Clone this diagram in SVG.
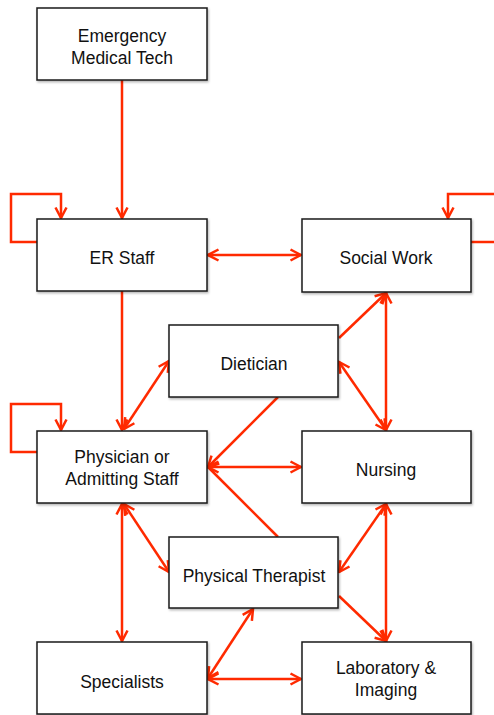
<svg xmlns="http://www.w3.org/2000/svg" width="494" height="715" viewBox="0 0 494 715">
<defs>
<style>
.box{fill:#fff;stroke:#1a1a1a;stroke-width:1.5;filter:url(#sh)}
.lbl{font-family:"Liberation Sans",Arial,sans-serif;font-size:17.5px;fill:#111;text-anchor:middle}
.c{fill:none;stroke:#ff2a00;stroke-width:2.5;stroke-linejoin:miter}
.a{marker-end:url(#ah)}
.b{marker-start:url(#ah);marker-end:url(#ah)}
</style>
<filter id="sh" x="-10%" y="-10%" width="120%" height="130%">
<feDropShadow dx="1" dy="1.5" stdDeviation="1.2" flood-color="#000" flood-opacity="0.3"/>
</filter>
<marker id="ah" viewBox="0 0 14 14" refX="12.5" refY="7" markerWidth="14" markerHeight="14" markerUnits="userSpaceOnUse" orient="auto-start-reverse">
<path d="M2,1.5 L12.5,7 L2,12.5" fill="none" stroke="#ff2a00" stroke-width="2.5"/>
</marker>
</defs>
<g id="connectors">
<path class="c a" d="M122,80 L122,218"/>
<path class="c a" d="M37,242 L11,242 L11,194 L61,194 L61,218"/>
<path class="c" d="M471,242 L500,242"/>
<path class="c a" d="M500,194 L448,194 L448,218"/>
<path class="c b" d="M208,255 L301,255"/>
<path class="c a" d="M122,291 L122,430"/>
<path class="c a" d="M37,452 L11,452 L11,404 L61,404 L61,430"/>
<path class="c b" d="M124,429 L169,361"/>
<path class="c a" d="M278,397 L208,467"/>
<path class="c" d="M278,537 L208,467"/>
<path class="c b" d="M208,467 L301,467"/>
<path class="c b" d="M124,504 L169,572"/>
<path class="c b" d="M122,504 L122,641"/>
<path class="c b" d="M253,609 L208,678"/>
<path class="c b" d="M208,679 L301,679"/>
<path class="c a" d="M339,596 L386,641"/>
<path class="c b" d="M386,504 L386,641"/>
<path class="c b" d="M386,504 L339,572"/>
<path class="c b" d="M386,293 L386,430"/>
<path class="c b" d="M339,362 L386,430"/>
<path class="c a" d="M339,338 L386,293"/>
</g>
<g id="emt"><rect class="box" x="37" y="8" width="170" height="72"/><text class="lbl" x="122" y="42">Emergency</text><text class="lbl" x="122" y="64">Medical Tech</text></g>
<g id="er"><rect class="box" x="37" y="219" width="170" height="72"/><text class="lbl" x="122" y="264">ER Staff</text></g>
<g id="social"><rect class="box" x="302" y="219" width="169" height="73"/><text class="lbl" x="386" y="264">Social Work</text></g>
<g id="dietician"><rect class="box" x="169" y="325" width="169" height="72"/><text class="lbl" x="254" y="370">Dietician</text></g>
<g id="physician"><rect class="box" x="37" y="431" width="170" height="72"/><text class="lbl" x="122" y="463">Physician or</text><text class="lbl" x="122" y="485">Admitting Staff</text></g>
<g id="nursing"><rect class="box" x="302" y="431" width="169" height="72"/><text class="lbl" x="386" y="476">Nursing</text></g>
<g id="pt"><rect class="box" x="169" y="537" width="169" height="71"/><text class="lbl" x="254" y="582">Physical Therapist</text></g>
<g id="specialists"><rect class="box" x="37" y="642" width="170" height="72"/><text class="lbl" x="122" y="688">Specialists</text></g>
<g id="lab"><rect class="box" x="302" y="642" width="169" height="72"/><text class="lbl" x="386" y="674">Laboratory &amp;</text><text class="lbl" x="386" y="696">Imaging</text></g>
</svg>
